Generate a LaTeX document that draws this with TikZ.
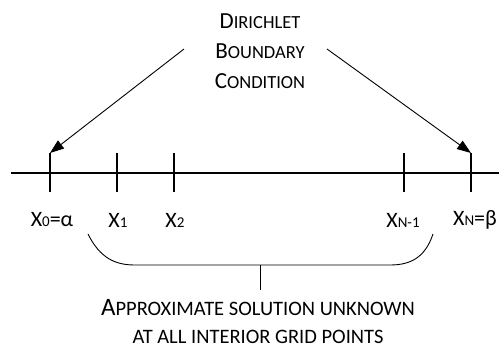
\documentclass[tikz,border=0pt]{standalone}
\usepackage{fontspec}
\setmainfont{Carlito}
\usetikzlibrary{arrows.meta}
% grid-point label: large X with a small index on the baseline
\newcommand{\gp}[2]{X{\fontsize{15}{15}\selectfont #1}#2}
% small capitals built from capitals of two sizes
\newcommand{\lo}[1]{{\fontsize{18.5}{18.5}\selectfont #1}}
\newcommand{\lob}[1]{{\fontsize{20.5}{20.5}\selectfont #1}}
\begin{document}
\begin{tikzpicture}[x=1pt,y=-1pt,
  axis/.style={line width=2pt},
  tickmark/.style={line width=1.3pt},
  pointer/.style={line width=0.9pt,-{Triangle[length=14pt,width=10pt]}},
  bracket/.style={line width=0.9pt},
  caption/.style={align=center,inner sep=0pt,font=\fontsize{23}{30}\selectfont},
  gridlabel/.style={inner sep=0pt,font=\fontsize{22}{22}\selectfont}]
\useasboundingbox (0,0) rectangle (499,349);

% grid line and tick marks
\coordinate (L) at (11,173);
\coordinate (R) at (499,173);
\draw[axis] (L) -- (R);
\foreach \n/\x in {t0/50,t1/117,t2/174,tm/404,tn/471}{
  \coordinate (\n) at (\x,173);
  \draw[tickmark] ([yshift=20pt]\n) -- ([yshift=-19pt]\n);
}
\coordinate (t0top) at (50,153);
\coordinate (tntop) at (471,153);

% grid-point labels
\node[gridlabel] (l0) at (52,220) {\gp{0}{=α}};
\node[gridlabel] (l1) at (118,220) {\gp{1}{}};
\node[gridlabel] (l2) at (175,220) {\gp{2}{}};
\node[gridlabel] (lm) at (403,220) {\gp{N-1}{}};
\node[gridlabel] (ln) at (475,220) {\gp{N}{=β}};

% boundary condition caption and its pointers
\node[caption] (bc) at (260,51) {D\lo{IRICHLET}\\B\lo{OUNDARY}\\C\lo{ONDITION}};
\coordinate (bcl) at (184,49);
\coordinate (bcr) at (327,49);
\draw[pointer] (bcl) -- (t0top);
\draw[pointer] (bcr) -- (tntop);

% brace over the interior points
\coordinate (bl) at (88,234);
\coordinate (br) at (433,234);
\coordinate (bmid) at (260,265);
\coordinate (bstem) at (260,290);
\draw[bracket] (bl) .. controls (100,258) and (115,265) .. (135,265)
  -- (390,265) .. controls (410,265) and (425,258) .. (br);
\draw[bracket] (bmid) -- (bstem);

\node[caption,font=\fontsize{25}{28}\selectfont] (ap) at (258,322) {A\lob{PPROXIMATE SOLUTION UNKNOWN}\\\lob{AT ALL INTERIOR GRID POINTS}};
\end{tikzpicture}
\end{document}
